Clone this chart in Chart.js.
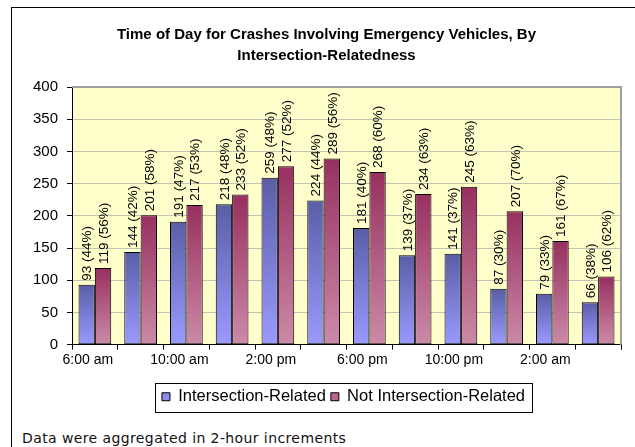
<!DOCTYPE html>
<html>
  <head>
    <meta charset="UTF-8" />
    <title>Emergency Vehicle Crashes by Time of Day</title>
    <script src="https://cdn.jsdelivr.net/npm/chart.js"></script>
    <style>
      html,
      body {
        margin: 0;
        padding: 0;
        width: 635px;
        height: 447px;
        overflow: hidden;
        background: #fff;
      }
      #frame {
        position: absolute;
        left: 11px;
        top: 7px;
        width: 700px;
        height: 500px;
        border: 1px solid #000;
      }
      #wrap {
        position: absolute;
        left: 0;
        top: 0;
        width: 635px;
        height: 425px;
      }
      #note {
        position: absolute;
        left: 22px;
        top: 430px;
        font-family: "DejaVu Sans", Verdana, sans-serif;
        font-size: 14px;
        letter-spacing: 0.4px;
        color: #111;
        white-space: nowrap;
      }
    </style>
  </head>
  <body>
    <div id="frame"></div>
    <div id="wrap"><canvas id="crashChart"></canvas></div>
    <div id="note">Data were aggregated in 2-hour increments</div>
  </body>
  <script>
    // 2-hour bins, only every other one gets a label on the axis
    const timeSlots = [
      "6:00 am", "8:00 am", "10:00 am", "12:00 pm", "2:00 pm", "4:00 pm",
      "6:00 pm", "8:00 pm", "10:00 pm", "12:00 am", "2:00 am", "4:00 am",
    ];
    const intersectionCounts = [93, 144, 191, 218, 259, 224, 181, 139, 141, 87, 79, 66];
    const intersectionPct = [44, 42, 47, 48, 48, 44, 40, 37, 37, 30, 33, 38];
    const notIntersectionCounts = [119, 201, 217, 233, 277, 289, 268, 234, 245, 207, 161, 106];
    const notIntersectionPct = [56, 58, 53, 52, 52, 56, 60, 63, 63, 70, 67, 62];
    const yTicks = [0, 50, 100, 150, 200, 250, 300, 350, 400];

    const FONT = "'Liberation Sans', Arial, sans-serif";

    // vertical gradient per bar, dark at the top
    function barGradient(top, bottom) {
      return (c) => {
        const chart = c.chart;
        if (!chart.chartArea || c.type !== "data") return bottom;
        const y = chart.scales.y;
        const g = chart.ctx.createLinearGradient(0, y.getPixelForValue(c.raw), 0, y.getPixelForValue(0));
        g.addColorStop(0, top);
        g.addColorStop(1, bottom);
        return g;
      };
    }

    const plotBackground = {
      id: "plotBackground",
      beforeDraw(chart) {
        const { ctx, chartArea: a } = chart;
        ctx.save();
        ctx.fillStyle = "#ffffcc";
        ctx.fillRect(a.left, a.top, a.right - a.left, a.bottom - a.top);
        ctx.restore();
      },
      afterDraw(chart) {
        const { ctx, chartArea: a } = chart;
        ctx.save();
        ctx.strokeStyle = "#a0a0a0";
        ctx.lineWidth = 2;
        ctx.beginPath();
        ctx.moveTo(a.left, a.top);
        ctx.lineTo(a.right, a.top);
        ctx.lineTo(a.right, a.bottom);
        ctx.stroke();
        ctx.restore();
      },
    };

    // title and legend sit a little right of the canvas centre in the original
    const nudge = {
      id: "nudge",
      afterLayout(chart) {
        chart.titleBlock.left += 10;
        chart.titleBlock.right += 10;
        chart.legend.left += 27;
        chart.legend.right += 27;
      },
    };

    const barLabels = {
      id: "barLabels",
      afterDatasetsDraw(chart) {
        const { ctx } = chart;
        const pcts = [intersectionPct, notIntersectionPct];
        ctx.save();
        ctx.font = "13.5px " + FONT;
        ctx.fillStyle = "#000";
        ctx.textAlign = "left";
        ctx.textBaseline = "middle";
        chart.data.datasets.forEach((ds, di) => {
          chart.getDatasetMeta(di).data.forEach((bar, i) => {
            ctx.save();
            ctx.translate(bar.x + 1, bar.y - 4);
            ctx.rotate(-Math.PI / 2);
            ctx.fillText(ds.data[i] + " (" + pcts[di][i] + "%)", 0, 0);
            ctx.restore();
          });
        });
        ctx.restore();
      },
    };

    const legendBox = {
      id: "legendBox",
      afterDraw(chart) {
        const boxes = chart.legend.legendHitBoxes;
        if (!boxes || !boxes.length) return;
        const left = Math.min(...boxes.map((b) => b.left)) - 7;
        const right = Math.max(...boxes.map((b) => b.left + b.width)) + 7;
        const mid = boxes[0].top + boxes[0].height / 2;
        const { ctx } = chart;
        ctx.save();
        ctx.strokeStyle = "#000";
        ctx.lineWidth = 1;
        ctx.strokeRect(Math.round(left) + 0.5, Math.round(mid - 14) + 0.5, Math.round(right - left), 29);
        ctx.restore();
      },
    };

    const legendFill = ["#8c8cea", "#b8648c"];

    new Chart(document.getElementById("crashChart"), {
      type: "bar",
      data: {
        labels: timeSlots,
        datasets: [
          {
            label: "Intersection-Related",
            data: intersectionCounts,
            backgroundColor: barGradient("#5a5ea6", "#9a9aff"),
            borderColor: "#000",
            borderWidth: 1,
            borderSkipped: false,
          },
          {
            label: "Not Intersection-Related",
            data: notIntersectionCounts,
            backgroundColor: barGradient("#97305f", "#cc8aa8"),
            borderColor: "#000",
            borderWidth: 1,
            borderSkipped: false,
          },
        ],
      },
      options: {
        responsive: true,
        maintainAspectRatio: false,
        animation: false,
        datasets: {
          bar: { categoryPercentage: 0.715, barPercentage: 1 },
        },
        layout: { padding: { left: 12, right: 14, top: 0, bottom: 10 } },
        plugins: {
          title: {
            display: true,
            text: [
              "Time of Day for Crashes Involving Emergency Vehicles, By",
              "Intersection-Relatedness",
            ],
            color: "#000",
            font: { family: FONT, size: 15, weight: "bold", lineHeight: 1.4 },
            padding: { top: 24, bottom: 21 },
          },
          legend: {
            position: "bottom",
            labels: {
              color: "#000",
              font: { family: FONT, size: 16.5 },
              boxWidth: 8,
              boxHeight: 8,
              padding: 5,
              generateLabels: (chart) =>
                chart.data.datasets.map((ds, i) => ({
                  text: ds.label,
                  fillStyle: legendFill[i],
                  strokeStyle: "#000",
                  lineWidth: 1,
                  datasetIndex: i,
                  fontColor: "#000",
                })),
            },
          },
          tooltip: { enabled: false },
        },
        scales: {
          x: {
            afterFit: (axis) => {
              axis.height += 13;
            },
            grid: {
              drawOnChartArea: false,
              offset: true,
              tickLength: 5,
              tickColor: "#000",
            },
            border: { color: "#000", width: 1 },
            ticks: {
              color: "#000",
              font: { family: FONT, size: 14 },
              autoSkip: false,
              maxRotation: 0,
              padding: 2,
              labelOffset: -7,
              callback: (v, i) => (i % 2 === 0 ? timeSlots[i] : ""),
            },
          },
          y: {
            min: yTicks[0],
            max: yTicks[yTicks.length - 1],
            afterBuildTicks: (axis) => {
              axis.ticks = yTicks.map((v) => ({ value: v }));
            },
            afterFit: (axis) => {
              axis.width = 60;
            },
            grid: { color: "#c4c4b4", tickLength: 5, tickColor: "#000" },
            border: { color: "#000", width: 1 },
            ticks: {
              color: "#000",
              font: { family: FONT, size: 15 },
              padding: 9,
            },
          },
        },
      },
      plugins: [plotBackground, nudge, barLabels, legendBox],
    });
  </script>
</html>
